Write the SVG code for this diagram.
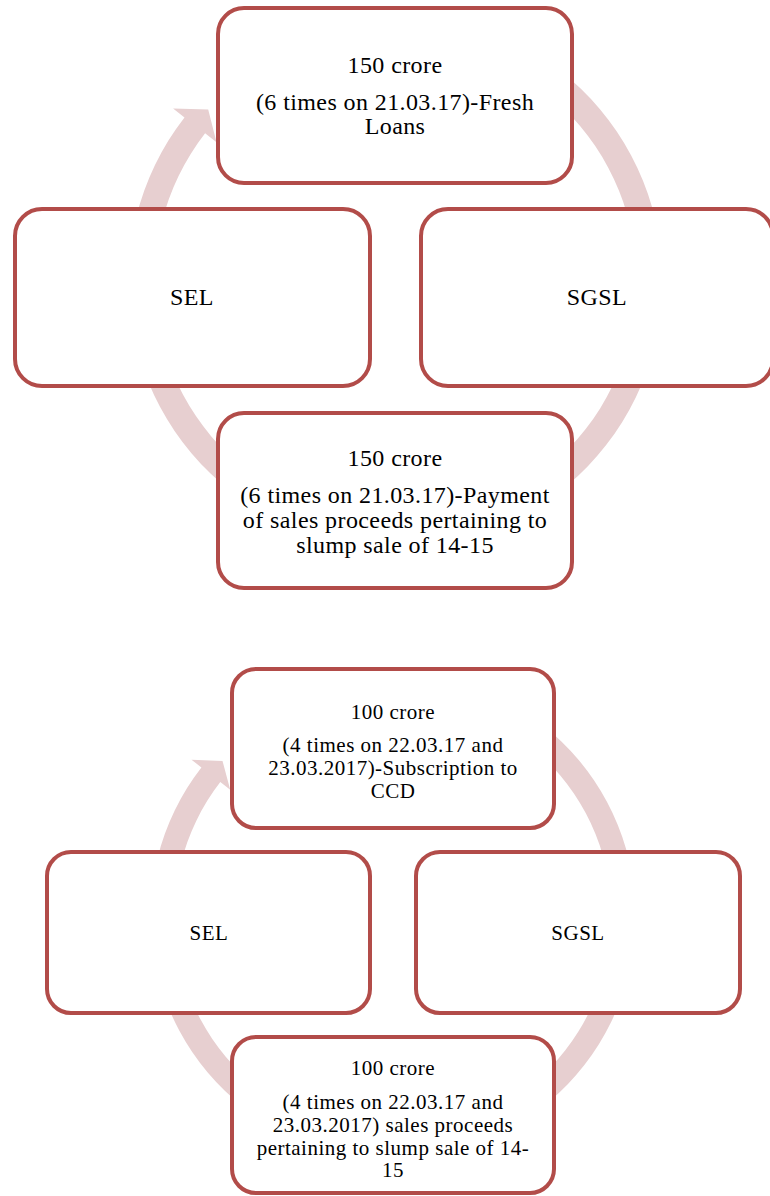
<svg xmlns="http://www.w3.org/2000/svg" width="770" height="1196" viewBox="0 0 770 1196">
<style>
.node{fill:#ffffff;stroke:#b24c49;stroke-width:4}
.ring{fill:#e7cfd0;stroke:none}
.t1{font-family:"Liberation Serif","Times New Roman",serif;font-size:24px;letter-spacing:0.4px;fill:#000;text-anchor:middle}
.t2{font-family:"Liberation Serif","Times New Roman",serif;font-size:21px;letter-spacing:0.5px;fill:#000;text-anchor:middle}
</style>
<rect width="770" height="1196" fill="#ffffff"/>
<g id="connectors">
<path id="cycle1" class="ring" d="M 486.8 30.1 A 267 267 0 1 1 184.5 117.4 L 173.1 108.5 L 208.2 109.4 L 216.5 142.2 L 205.1 133.3 A 241 241 0 1 0 477.9 54.5 Z"/>
<path id="cycle2" class="ring" d="M 475.9 688.1 A 242.5 242.5 0 1 1 201.4 767.4 L 191.5 759.7 L 222.5 760.9 L 230.2 789.7 L 220.3 782.1 A 218.5 218.5 0 1 0 467.7 710.7 Z"/>
</g>
<g id="d1-top">
<rect class="node" x="218" y="8" width="354" height="175" rx="26"/>
<text class="t1" x="395" y="73">150 crore</text>
<text class="t1" x="395" y="110">(6 times on 21.03.17)-Fresh</text>
<text class="t1" x="395" y="134">Loans</text>
</g>
<g id="d1-sel">
<rect class="node" x="15" y="209" width="355" height="177" rx="27"/>
<text class="t1" x="192" y="305">SEL</text>
</g>
<g id="d1-sgsl">
<rect class="node" x="421" y="209" width="352" height="177" rx="27"/>
<text class="t1" x="597" y="305">SGSL</text>
</g>
<g id="d1-bottom">
<rect class="node" x="218" y="413" width="354" height="175" rx="26"/>
<text class="t1" x="395" y="466">150 crore</text>
<text class="t1" x="395" y="503">(6 times on 21.03.17)-Payment</text>
<text class="t1" x="395" y="528">of sales proceeds pertaining to</text>
<text class="t1" x="395" y="553">slump sale of 14-15</text>
</g>
<g id="d2-top">
<rect class="node" x="232" y="669" width="322" height="159" rx="24"/>
<text class="t2" x="393" y="719">100 crore</text>
<text class="t2" x="393" y="752">(4 times on 22.03.17 and</text>
<text class="t2" x="393" y="775">23.03.2017)-Subscription to</text>
<text class="t2" x="393" y="798">CCD</text>
</g>
<g id="d2-sel">
<rect class="node" x="47" y="852" width="323" height="161" rx="24"/>
<text class="t2" x="209" y="940">SEL</text>
</g>
<g id="d2-sgsl">
<rect class="node" x="416" y="852" width="324" height="161" rx="24"/>
<text class="t2" x="578" y="940">SGSL</text>
</g>
<g id="d2-bottom">
<rect class="node" x="232" y="1037" width="322" height="156" rx="24"/>
<text class="t2" x="393" y="1075">100 crore</text>
<text class="t2" x="393" y="1109">(4 times on 22.03.17 and</text>
<text class="t2" x="393" y="1132">23.03.2017) sales proceeds</text>
<text class="t2" x="393" y="1155">pertaining to slump sale of 14-</text>
<text class="t2" x="393" y="1177">15</text>
</g>
</svg>
